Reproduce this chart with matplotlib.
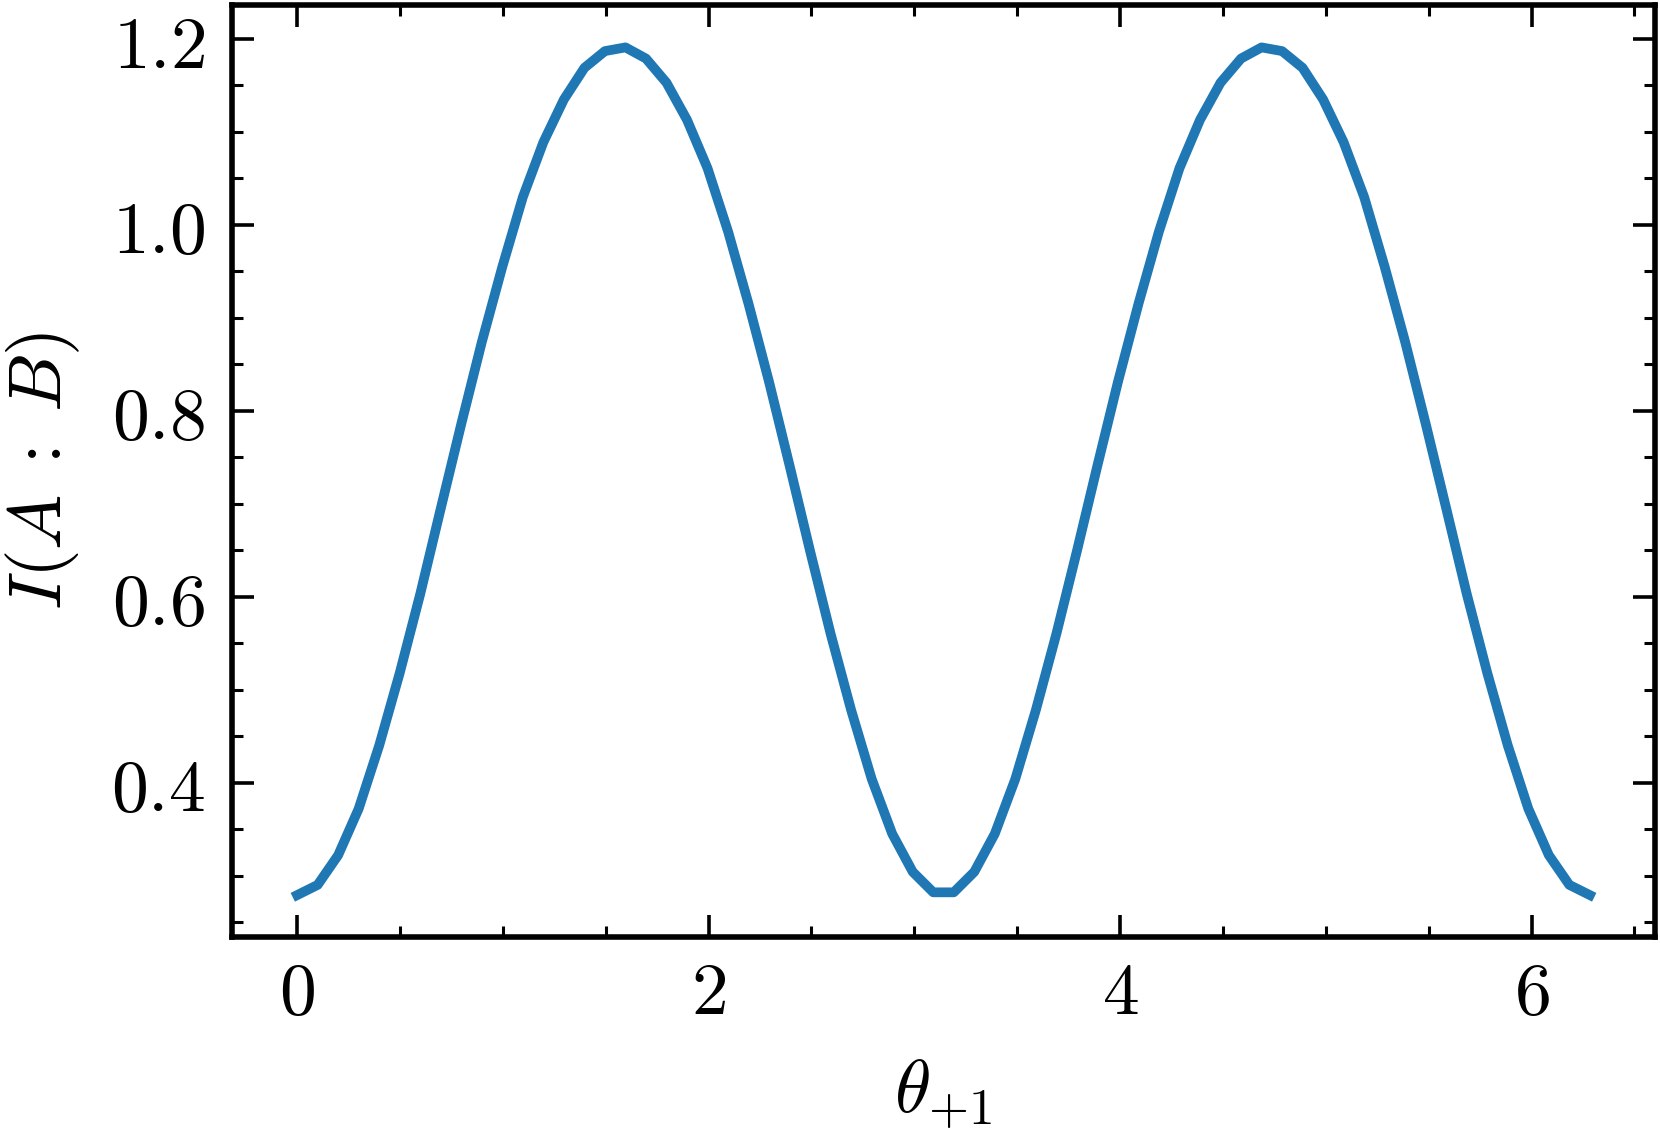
import numpy as np
import matplotlib
matplotlib.use("Agg")
import matplotlib.pyplot as plt
from matplotlib.ticker import MultipleLocator, FuncFormatter

# x grid: 64 evenly spaced angles from 0 to 2*pi
theta = np.linspace(0, 2 * np.pi, 64)

# I(A:B) values
mutual_info = [
    0.279, 0.290, 0.322, 0.372, 0.440, 0.518, 0.603, 0.695,
    0.786, 0.874, 0.955, 1.030, 1.089, 1.135, 1.169, 1.187,
    1.191, 1.179, 1.153, 1.113, 1.061, 0.993, 0.915, 0.831,
    0.741, 0.649, 0.560, 0.478, 0.404, 0.345, 0.304, 0.282,
    0.282, 0.304, 0.345, 0.404, 0.478, 0.560, 0.649, 0.741,
    0.831, 0.915, 0.993, 1.061, 1.113, 1.153, 1.179, 1.191,
    1.187, 1.169, 1.135, 1.089, 1.030, 0.955, 0.874, 0.786,
    0.695, 0.603, 0.518, 0.440, 0.372, 0.322, 0.290, 0.279,
]

x_label = r"$\theta_{+1}$"
y_label = r"$I(A\;{:}\;B)$"

plt.rcParams["mathtext.fontset"] = "cm"

fig = plt.figure(figsize=(16.6, 11.36), dpi=100)
ax = fig.add_axes([0.14006, 0.17474, 0.85663, 0.82086])

ax.plot(theta, mutual_info, color="#1f77b4", lw=7)

ax.xaxis.set_major_locator(MultipleLocator(2))
ax.xaxis.set_minor_locator(MultipleLocator(0.5))
ax.yaxis.set_major_locator(MultipleLocator(0.2))
ax.yaxis.set_minor_locator(MultipleLocator(0.05))
ax.xaxis.set_major_formatter(FuncFormatter(lambda v, p: f"${v:.0f}$"))
ax.yaxis.set_major_formatter(FuncFormatter(lambda v, p: f"${v:.1f}$"))

ax.tick_params(which="both", direction="in", top=True, right=True,
               labelsize=53, color="black")
ax.tick_params(axis="y", which="both", pad=20)
ax.tick_params(axis="x", which="both", pad=14)
ax.tick_params(which="major", length=15.8, width=2.6)
ax.tick_params(which="minor", length=8.2, width=2.2)
for s in ax.spines.values():
    s.set_linewidth(4)

ax.set_xlabel(x_label, fontsize=53, labelpad=20)
ax.set_ylabel(y_label, fontsize=53, labelpad=20.5)

fig.savefig("out.png", dpi=100)
